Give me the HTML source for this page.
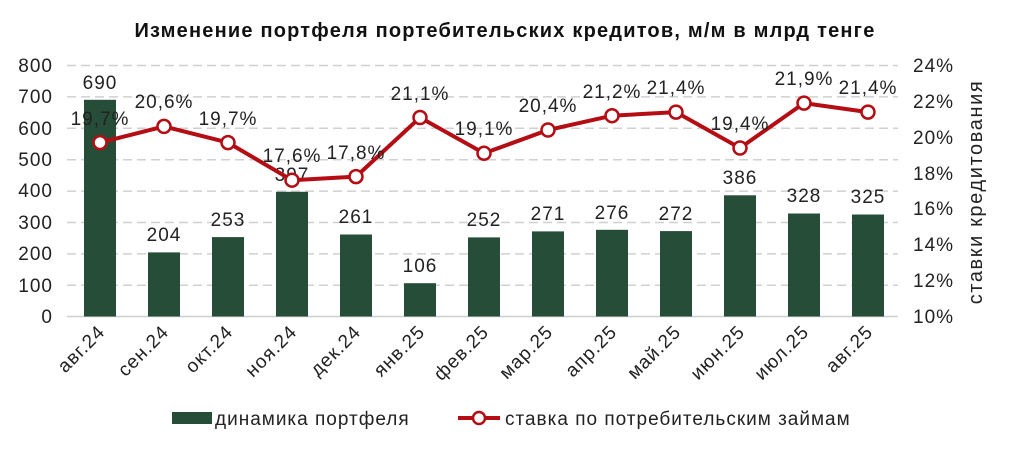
<!DOCTYPE html>
<html><head><meta charset="utf-8"><style>
body{margin:0;background:#fff}
svg{display:block;font-family:"Liberation Sans",sans-serif}
text{letter-spacing:1px}
</style></head><body>
<svg width="1009" height="449" viewBox="0 0 1009 449">
<text x="505" y="37" text-anchor="middle" font-size="20" font-weight="bold" fill="#111" style="letter-spacing:1.2px">Изменение портфеля портебительских кредитов, м/м в млрд тенге</text>
<g stroke="#d0d0d0" stroke-width="1.5" stroke-dasharray="9,5">
<line x1="67" x2="898" y1="65.5" y2="65.5"/><line x1="67" x2="898" y1="96.9" y2="96.9"/>
<line x1="67" x2="898" y1="128.3" y2="128.3"/><line x1="67" x2="898" y1="159.7" y2="159.7"/>
<line x1="67" x2="898" y1="191.1" y2="191.1"/><line x1="67" x2="898" y1="222.5" y2="222.5"/>
<line x1="67" x2="898" y1="253.9" y2="253.9"/><line x1="67" x2="898" y1="285.3" y2="285.3"/>
</g>
<line x1="67" x2="898" y1="316.5" y2="316.5" stroke="#d0d0d0" stroke-width="1.5"/>
<g font-size="19" fill="#222" text-anchor="end">
<text x="53" y="72">800</text><text x="53" y="103">700</text><text x="53" y="135">600</text>
<text x="53" y="166">500</text><text x="53" y="197">400</text><text x="53" y="229">300</text>
<text x="53" y="260">200</text><text x="53" y="292">100</text><text x="53" y="323">0</text>
</g>
<g font-size="19" fill="#222">
<text x="913" y="72">24%</text><text x="913" y="108">22%</text><text x="913" y="144">20%</text>
<text x="913" y="180">18%</text><text x="913" y="215">16%</text><text x="913" y="251">14%</text>
<text x="913" y="287">12%</text><text x="913" y="323">10%</text>
</g>
<text transform="translate(982,192) rotate(-90)" text-anchor="middle" font-size="20" fill="#222" style="letter-spacing:1.6px">ставки кредитования</text>
<g fill="#264d38">
<rect x="84" y="99.8" width="32" height="216.7"/><rect x="148" y="252.4" width="32" height="64.1"/>
<rect x="212" y="237.1" width="32" height="79.4"/><rect x="276" y="191.8" width="32" height="124.7"/>
<rect x="340" y="234.5" width="32" height="82"/><rect x="404" y="283.2" width="32" height="33.3"/>
<rect x="468" y="237.4" width="32" height="79.1"/><rect x="532" y="231.4" width="32" height="85.1"/>
<rect x="596" y="229.8" width="32" height="86.7"/><rect x="660" y="231.1" width="32" height="85.4"/>
<rect x="724" y="195.3" width="32" height="121.2"/><rect x="788" y="213.5" width="32" height="103"/>
<rect x="852" y="214.5" width="32" height="102"/>
</g>
<g font-size="19" fill="#222" text-anchor="middle">
<text x="100" y="89">690</text><text x="164" y="241">204</text><text x="228" y="226">253</text>
<text x="292" y="181">397</text><text x="356" y="223">261</text><text x="420" y="272">106</text>
<text x="484" y="226">252</text><text x="548" y="220">271</text><text x="612" y="219">276</text>
<text x="676" y="220">272</text><text x="740" y="184">386</text><text x="804" y="202">328</text>
<text x="868" y="203">325</text>
</g>
<polyline fill="none" stroke="#b50d14" stroke-width="4" stroke-linejoin="round" points="100,142.6 164,126.4 228,142.6 292,180.2 356,176.6 420,117.5 484,153.3 548,130 612,115.7 676,112.1 740,148 804,103.1 868,112.1"/>
<g fill="#fff" stroke="#b50d14" stroke-width="2.5">
<circle cx="100" cy="142.6" r="6.5"/><circle cx="164" cy="126.4" r="6.5"/><circle cx="228" cy="142.6" r="6.5"/>
<circle cx="292" cy="180.2" r="6.5"/><circle cx="356" cy="176.6" r="6.5"/><circle cx="420" cy="117.5" r="6.5"/>
<circle cx="484" cy="153.3" r="6.5"/><circle cx="548" cy="130" r="6.5"/><circle cx="612" cy="115.7" r="6.5"/>
<circle cx="676" cy="112.1" r="6.5"/><circle cx="740" cy="148" r="6.5"/><circle cx="804" cy="103.1" r="6.5"/>
<circle cx="868" cy="112.1" r="6.5"/>
</g>
<g font-size="19" fill="#222" text-anchor="middle">
<text x="100" y="125">19,7%</text><text x="164" y="108">20,6%</text><text x="228" y="125">19,7%</text>
<text x="292" y="162">17,6%</text><text x="356" y="159">17,8%</text><text x="420" y="100">21,1%</text>
<text x="484" y="135">19,1%</text><text x="548" y="112">20,4%</text><text x="612" y="98">21,2%</text>
<text x="676" y="94">21,4%</text><text x="740" y="130">19,4%</text><text x="804" y="85">21,9%</text>
<text x="868" y="94">21,4%</text>
</g>
<g font-size="19" fill="#222" text-anchor="end">
<text transform="translate(106,333) rotate(-45)">авг.24</text>
<text transform="translate(170,333) rotate(-45)">сен.24</text>
<text transform="translate(234,333) rotate(-45)">окт.24</text>
<text transform="translate(298,333) rotate(-45)">ноя.24</text>
<text transform="translate(362,333) rotate(-45)">дек.24</text>
<text transform="translate(426,333) rotate(-45)">янв.25</text>
<text transform="translate(490,333) rotate(-45)">фев.25</text>
<text transform="translate(554,333) rotate(-45)">мар.25</text>
<text transform="translate(618,333) rotate(-45)">апр.25</text>
<text transform="translate(682,333) rotate(-45)">май.25</text>
<text transform="translate(746,333) rotate(-45)">июн.25</text>
<text transform="translate(810,333) rotate(-45)">июл.25</text>
<text transform="translate(874,333) rotate(-45)">авг.25</text>
</g>
<rect x="172" y="412" width="40" height="12" fill="#264d38"/>
<text x="215" y="425" font-size="19" fill="#222">динамика портфеля</text>
<line x1="458" x2="500" y1="418" y2="418" stroke="#b50d14" stroke-width="4"/>
<circle cx="479" cy="418" r="6" fill="#fff" stroke="#b50d14" stroke-width="2.5"/>
<text x="505" y="425" font-size="19" fill="#222">ставка по потребительским займам</text>
</svg>
</body></html>
